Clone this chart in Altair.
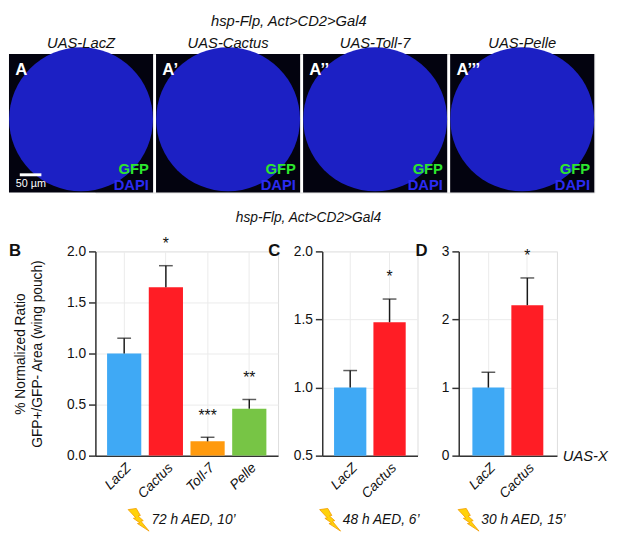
import altair as alt
import pandas as pd

FONT = "Liberation Sans"

# ---------- data ----------
panel_titles = ["UAS-LacZ", "UAS-Cactus", "UAS-Toll-7", "UAS-Pelle"]
panel_letters = ["A", "A’", "A’’", "A’’’"]

b_genos = ["LacZ", "Cactus", "Toll-7", "Pelle"]
b_means = [1.0, 1.65, 0.14, 0.46]
b_upper = [1.15, 1.86, 0.18, 0.55]
b_stars = ["", "*", "***", "**"]

c_genos = ["LacZ", "Cactus"]
c_means = [1.0, 1.48]
c_upper = [1.125, 1.65]
c_stars = ["", "*"]

d_genos = ["LacZ", "Cactus"]
d_means = [1.0, 2.21]
d_upper = [1.225, 2.61]
d_stars = ["", "*"]

geno_colors = {"LacZ": "#3FA9F5", "Cactus": "#FF1D25", "Toll-7": "#FF9A0E", "Pelle": "#77C545"}

BOLT = ("M-0.9,-0.85 L-0.2,-0.95 L0.15,-0.35 L-0.05,-0.3 L0.4,0.1 L0.2,0.15 "
        "L0.9,1 L-0.1,0.35 L0.12,0.3 L-0.45,-0.1 L-0.25,-0.15 Z")

# B plot origin sits 88 px right of the row's left edge; the image strip uses the same origin
LEFT = 88

# ---------- top image strip ----------
TW, TH = 596, 141
top_df = pd.DataFrame({"panel": panel_titles, "letter": panel_letters})
xb = alt.X("panel:N", sort=panel_titles, axis=None,
           scale=alt.Scale(paddingInner=0.02, paddingOuter=0, range=[-LEFT, TW - LEFT]))
tbase = alt.Chart(top_df)
bg = tbase.mark_rect(fill="#03030f").encode(x=xb, y=alt.value(0), y2=alt.value(TH))
disc = tbase.mark_point(shape="circle", filled=True, fill="#1c20c4", opacity=1,
                        size=TH * TH * 1.08).encode(x=xb, y=alt.value(TH / 2 - 4))
letters = tbase.mark_text(align="left", baseline="top", color="white", fontWeight="bold",
                          fontSize=17, dx=-67, font=FONT).encode(
    x=xb, y=alt.value(8), text="letter:N")
heads = tbase.mark_text(fontStyle="italic", fontSize=15, font=FONT, color="#111").encode(
    x=xb, y=alt.value(-11), text="panel:N")
gfp = tbase.mark_text(align="right", baseline="middle", color="#2EE62E", fontWeight="bold",
                      fontSize=15, dx=69, font=FONT, text="GFP").encode(x=xb, y=alt.value(TH - 24))
dapi = tbase.mark_text(align="right", baseline="middle", color="#2B2BF2", fontWeight="bold",
                       fontSize=15, dx=69, font=FONT, text="DAPI").encode(x=xb, y=alt.value(TH - 8))
first = alt.Chart(top_df.iloc[:1])
sbar = first.mark_rule(color="white", strokeWidth=3).encode(
    x=alt.value(11 - LEFT), x2=alt.value(33 - LEFT), y=alt.value(TH - 18))
stext = first.mark_text(color="white", fontSize=11, align="left", font=FONT, text="50 µm").encode(
    x=alt.value(7 - LEFT), y=alt.value(TH - 9))
ttl = first.mark_text(text="hsp-Flp, Act>CD2>Gal4", fontStyle="italic", fontSize=15, font=FONT,
                      color="#111", baseline="middle").encode(x=alt.value(293 - 8 - LEFT),
                                                              y=alt.value(-34))

top = alt.layer(bg, disc, letters, heads, gfp, dapi, sbar, stext, ttl).properties(
    width=TW - LEFT, height=TH)

# ---------- bar panels ----------
H = 208
guard_df = pd.DataFrame({"g": [0]})


def panel(genos, means, upper, stars, domain, ticks, fmt, width, pad_outer, ytitle,
          letter_next, letter_next_x, time_label, bolt_x, label_x, extra=None):
    df = pd.DataFrame({"genotype": genos, "mean": means, "upper": upper, "star": stars})
    x = alt.X("genotype:N", sort=genos, title=None,
              scale=alt.Scale(paddingInner=0.18, paddingOuter=pad_outer),
              axis=alt.Axis(labelAngle=-45, labelFontStyle="italic", labelFontSize=14,
                            labelFont=FONT, labelColor="#111", ticks=False, grid=True,
                            gridColor="#ebebeb", bandPosition=0.5, domainColor="#333",
                            domainWidth=1.5, labelPadding=5))

    def yenc(field):
        return alt.Y(field, type="quantitative", title=ytitle,
                     scale=alt.Scale(domain=domain, nice=False, zero=False),
                     axis=alt.Axis(values=ticks, format=fmt, labelFontSize=14, labelFont=FONT,
                                   labelColor="#111", tickSize=7, tickWidth=1.5, tickColor="#333",
                                   domainColor="#333", domainWidth=1.5, labelPadding=3,
                                   grid=True, gridColor="#ebebeb", titleFontSize=14,
                                   titleFont=FONT, titleFontWeight="normal", titleColor="#111",
                                   titleLineHeight=18, titlePadding=22))

    base = alt.Chart(df)
    bars = base.mark_bar(clip=True).encode(
        x=x, y=yenc("mean"),
        color=alt.Color("genotype:N", legend=None,
                        scale=alt.Scale(domain=list(geno_colors), range=list(geno_colors.values()))))
    err = base.mark_rule(color="#1a1a1a", strokeWidth=1.5).encode(x=x, y=yenc("mean"), y2="upper:Q")
    cap = base.mark_tick(color="#1a1a1a", thickness=1.5, size=14).encode(x=x, y=yenc("upper"))
    star = base.mark_text(dy=-22, fontSize=16, font=FONT, color="#111").encode(
        x=x, y=yenc("upper"), text="star:N")
    g = alt.Chart(guard_df)
    guard = g.mark_text(text="*", fontSize=16, opacity=0).encode(x=alt.value(20), y=alt.value(-10))
    bolt = g.mark_point(shape=BOLT, filled=True, fill="#FFD20A", stroke="#F29A00",
                        strokeWidth=0.8, size=560, opacity=1).encode(
        x=alt.value(bolt_x), y=alt.value(H + 65))
    tlab = g.mark_text(text=time_label, align="left", baseline="middle", fontStyle="italic",
                       fontSize=14, font=FONT, color="#111").encode(
        x=alt.value(label_x), y=alt.value(H + 66))
    layers = [bars, err, cap, star, guard, bolt, tlab]
    if letter_next:
        layers.append(g.mark_text(text=letter_next, align="left", baseline="middle",
                                  fontWeight="bold", fontSize=17, font=FONT, color="#111").encode(
            x=alt.value(letter_next_x), y=alt.value(0)))
    if extra is not None:
        layers += extra
    return alt.layer(*layers).properties(width=width, height=H)


g0 = alt.Chart(guard_df)
letter_b = g0.mark_text(text="B", align="left", baseline="middle", fontWeight="bold",
                        fontSize=17, font=FONT, color="#111").encode(x=alt.value(-LEFT), y=alt.value(0))

chart_b = panel(b_genos, b_means, b_upper, b_stars, [0, 2], [0, 0.5, 1, 1.5, 2], ".1f",
                186, 0.28, ["% Normalized Ratio", "GFP+/GFP- Area (wing pouch)"],
                "C", 176, "72 h AED, 10’", 44, 57, extra=[letter_b])
chart_c = panel(c_genos, c_means, c_upper, c_stars, [0.5, 2], [0.5, 1, 1.5, 2], ".1f",
                97, 0.3, None, "D", 95, "48 h AED, 6’", 8, 21)
uasx = g0.mark_text(text="UAS-X", align="left", baseline="middle", fontStyle="italic",
                    fontSize=15, font=FONT, color="#111").encode(x=alt.value(106), y=alt.value(H))
chart_d = panel(d_genos, d_means, d_upper, d_stars, [0, 3], [0, 1, 2, 3], "d",
                100, 0.35, None, None, 0, "30 h AED, 15’", 10, 23, extra=[uasx])

row = alt.hconcat(chart_b, chart_c, chart_d, spacing=12).properties(
    title=alt.TitleParams("hsp-Flp, Act>CD2>Gal4", fontStyle="italic", fontSize=14,
                          font=FONT, fontWeight="normal", anchor="middle", offset=8, color="#111"))

chart = alt.vconcat(top, row, spacing=18, padding=0).configure_view(stroke=None).configure(font=FONT)

chart.save("out.html", embed_options={"renderer": "svg", "actions": False})
